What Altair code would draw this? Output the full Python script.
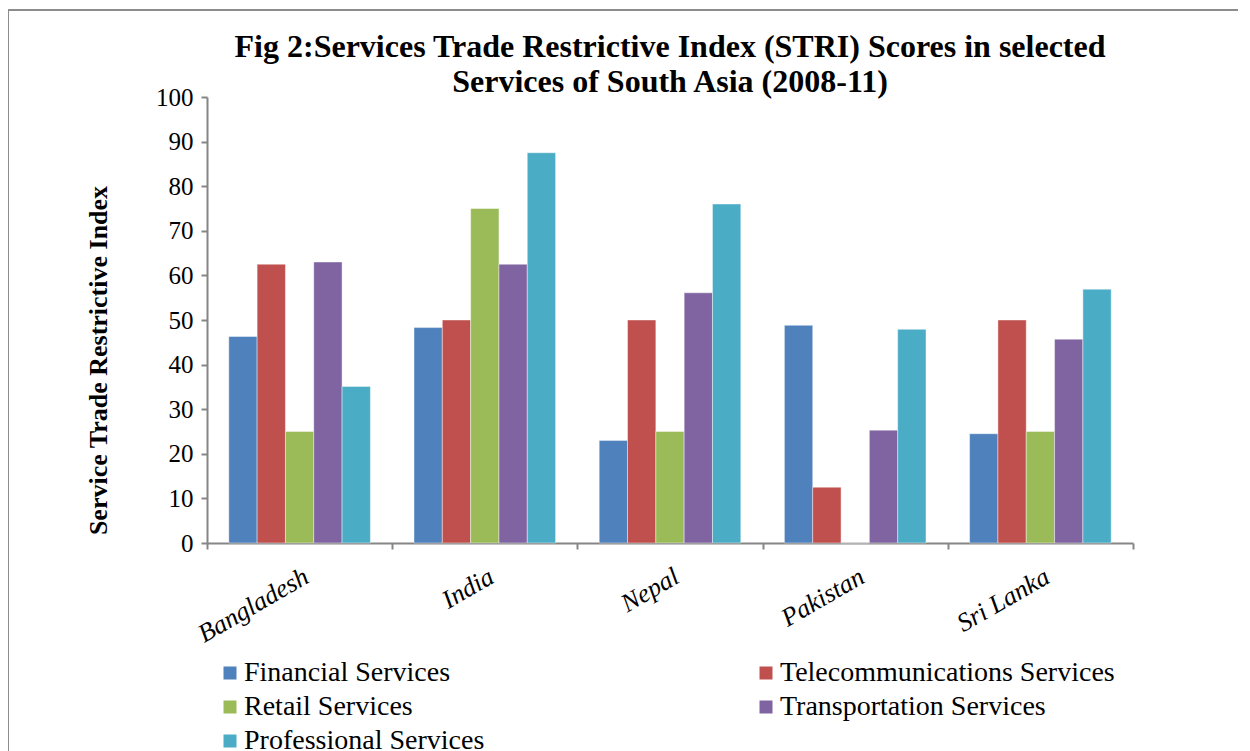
import altair as alt
import pandas as pd

countries = ["Bangladesh", "India", "Nepal", "Pakistan", "Sri Lanka"]
series = [
    "Financial Services",
    "Telecommunications Services",
    "Retail Services",
    "Transportation Services",
    "Professional Services",
]
financial = [46.3, 48.3, 23.0, 48.8, 24.5]
telecom = [62.5, 50.0, 50.0, 12.5, 50.0]
retail = [25.0, 75.0, 25.0, 0.0, 25.0]
transport = [63.0, 62.5, 56.1, 25.3, 45.7]
professional = [35.1, 87.5, 76.0, 47.9, 56.9]
colors = ["#4F81BD", "#C0504D", "#9BBB59", "#8064A2", "#4BACC6"]

# legend fills column by column: order so rows read Financial/Telecom, Retail/Transport, Professional
legend_order = [series[0], series[2], series[4], series[1], series[3]]
legend_colors = [colors[0], colors[2], colors[4], colors[1], colors[3]]

rows = []
for s, vals in zip(series, [financial, telecom, retail, transport, professional]):
    for c, v in zip(countries, vals):
        rows.append({"Country": c, "Series": s, "Value": v})
df = pd.DataFrame(rows)

font = "'Liberation Serif', Tinos, 'Times New Roman', serif"
axis_grey = "#868686"
frame_grey = "#8c8c8c"

bars = alt.Chart(df).mark_bar(stroke="white", strokeWidth=0.6, strokeOpacity=0.7).encode(
    x=alt.X(
        "Country:N",
        sort=countries,
        scale=alt.Scale(paddingInner=0, paddingOuter=0),
        axis=alt.Axis(
            title=None,
            labelAngle=-30,
            labelFont=font,
            labelFontStyle="italic",
            labelFontWeight="normal",
            labelFontSize=26,
            labelColor="black",
            tickBand="extent",
            domainColor=axis_grey,
            domainWidth=2,
            tickColor=axis_grey,
            tickWidth=2,
            tickSize=6,
            labelPadding=14,
        ),
    ),
    xOffset=alt.XOffset(
        "Series:N", sort=series, scale=alt.Scale(paddingOuter=0.77, paddingInner=0)
    ),
    y=alt.Y(
        "Value:Q",
        scale=alt.Scale(domain=[0, 100]),
        axis=alt.Axis(
            values=list(range(0, 101, 10)),
            title="Service Trade Restrictive Index",
            titleFont=font,
            titleFontSize=26,
            titleFontWeight="bold",
            titleColor="black",
            titlePadding=44,
            titleY=263,
            labelFont=font,
            labelFontWeight="normal",
            labelFontSize=25,
            labelColor="black",
            grid=False,
            domainColor=axis_grey,
            domainWidth=2,
            tickColor=axis_grey,
            tickWidth=2,
            tickSize=6,
            labelPadding=8,
        ),
    ),
    color=alt.Color(
        "Series:N",
        scale=alt.Scale(domain=legend_order, range=legend_colors),
        legend=alt.Legend(
            title=None,
            orient="none",
            legendX=9,
            legendY=562,
            columns=2,
            columnPadding=267,
            labelFont=font,
            labelFontWeight="normal",
            labelFontSize=28,
            labelColor="black",
            labelOffset=0,
            labelLimit=600,
            symbolType="square",
            symbolSize=169,
            symbolStrokeWidth=0,
            rowPadding=6,
        ),
    ),
)

frame_df = pd.DataFrame({"k": [0]})
frame_top = alt.Chart(frame_df).mark_rule(color=frame_grey, strokeWidth=2).encode(
    x=alt.value(-199), x2=alt.value(1040), y=alt.value(-87)
)
frame_left = alt.Chart(frame_df).mark_rule(color=frame_grey, strokeWidth=2).encode(
    x=alt.value(-199), y=alt.value(-87), y2=alt.value(700)
)

chart = alt.layer(bars, frame_top, frame_left).properties(
    width=926,
    height=446,
    title=alt.TitleParams(
        text=[
            "Fig 2:Services Trade Restrictive Index (STRI) Scores in selected",
            "Services of South Asia (2008-11)",
        ],
        font=font,
        fontSize=32,
        fontWeight="bold",
        color="black",
        anchor="middle",
        offset=-90,
        lineHeight=35,
    ),
    autosize=alt.AutoSizeParams(type="none"),
    padding={"left": 199, "top": 89, "right": 105, "bottom": 212},
).configure(font=font).configure_view(stroke=None)

chart.save("out.html", embed_options={"renderer": "svg", "actions": False})
